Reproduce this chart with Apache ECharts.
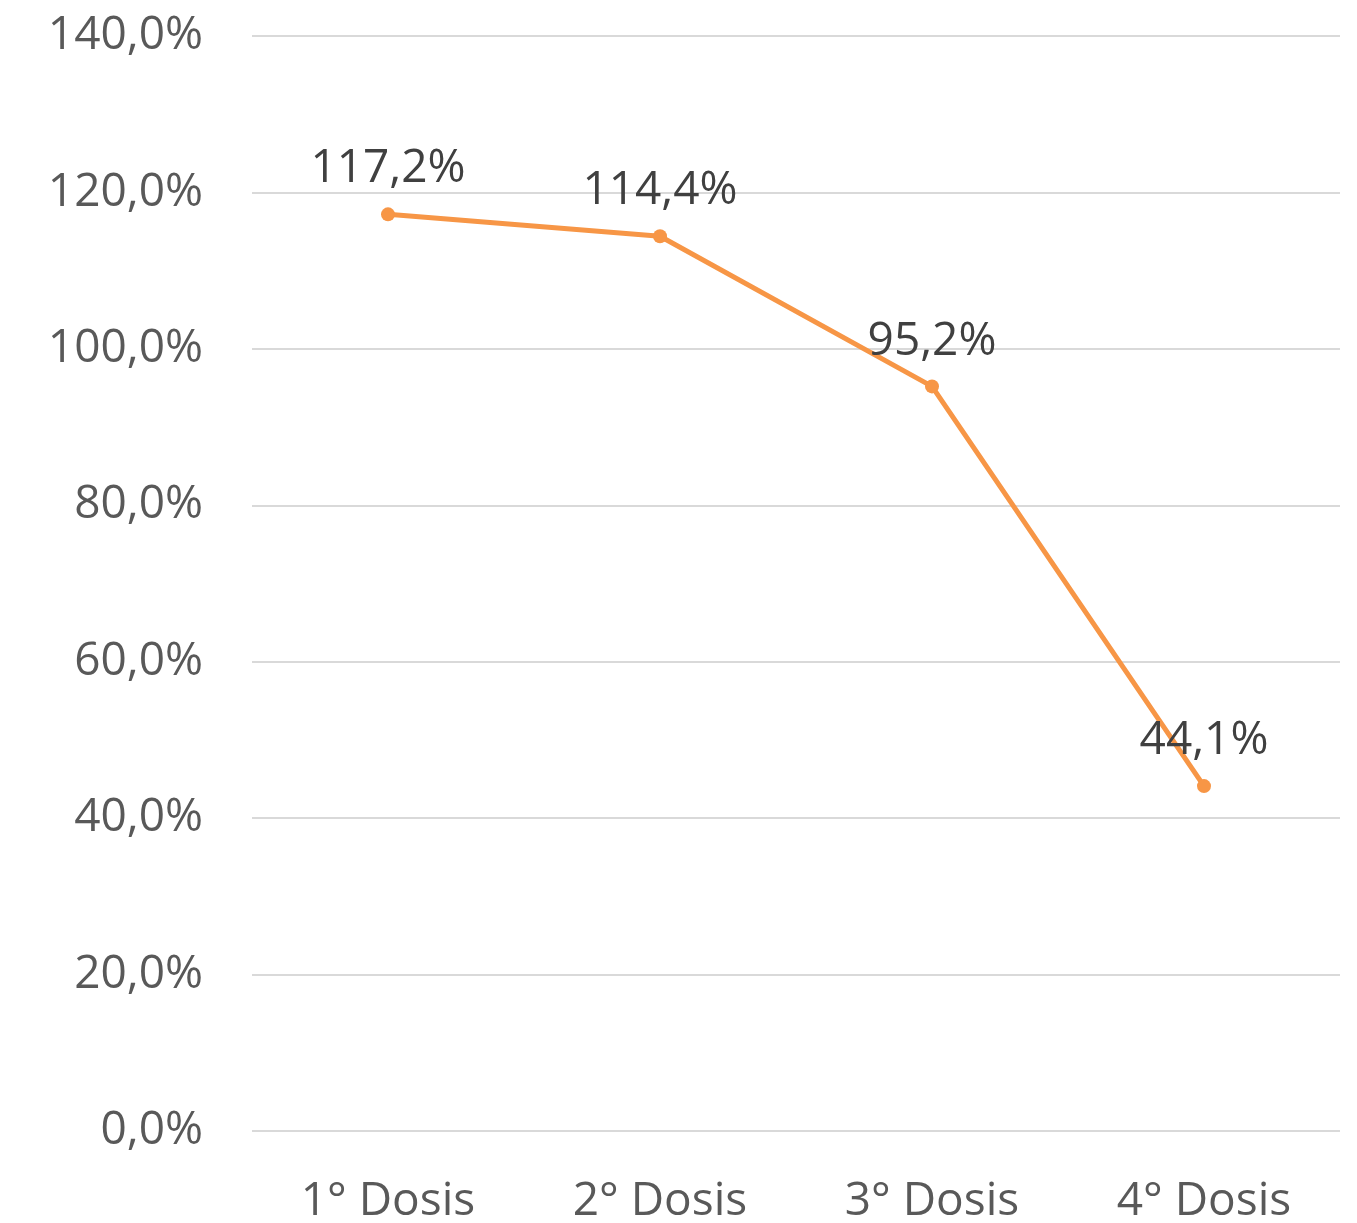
<!DOCTYPE html>
<html>
<head>
<meta charset="utf-8">
<script src="https://cdn.jsdelivr.net/npm/echarts@6/dist/echarts.min.js"></script>
<style>
  html, body { margin: 0; padding: 0; background: #fff; }
  #chart { width: 1357px; height: 1223px; }
</style>
</head>
<body>
<div id="chart"></div>
<script>
// dose categories and coverage values (%)
var categories = ['1° Dosis', '2° Dosis', '3° Dosis', '4° Dosis'];
var coverage = [117.2, 114.4, 95.2, 44.1];
var yMin = 0, yMax = 140, yStep = 20;

function pct(v) {
  return v.toFixed(1).replace('.', ',') + '%';
}

var font = '"Open Sans", "Liberation Sans", sans-serif';
var myChart = echarts.init(document.getElementById('chart'));
myChart.setOption({
  backgroundColor: '#fff',
  animation: false,
  grid: { left: 252, right: 17, top: 36, bottom: 92, outerBoundsMode: 'none' },
  xAxis: {
    type: 'category',
    data: categories,
    boundaryGap: true,
    axisLine: { show: false },
    axisTick: { show: false },
    axisLabel: { color: '#595959', fontFamily: font, fontSize: 46, margin: 48 }
  },
  yAxis: {
    type: 'value',
    min: yMin, max: yMax, interval: yStep,
    axisLine: { show: false },
    axisTick: { show: false },
    splitLine: { lineStyle: { color: '#d9d9d9', width: 2 } },
    axisLabel: {
      color: '#595959', fontFamily: font, fontSize: 46, margin: 49,
      formatter: function (v) { return pct(v); }
    }
  },
  series: [{
    type: 'line',
    data: coverage,
    symbol: 'circle',
    symbolSize: 14,
    lineStyle: { color: '#f79646', width: 5 },
    itemStyle: { color: '#f79646' },
    label: {
      show: true,
      position: 'top',
      distance: 15,
      color: '#404040',
      fontFamily: font,
      fontSize: 46,
      formatter: function (p) { return pct(p.value); }
    }
  }]
});
</script>
</body>
</html>
